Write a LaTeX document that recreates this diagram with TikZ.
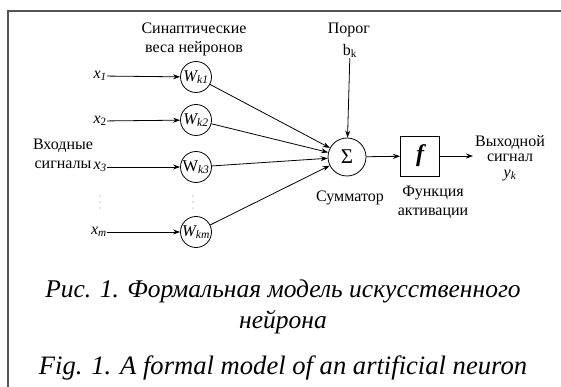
\documentclass[tikz,border=0pt]{standalone}
\usepackage{fontspec}
\setmainfont{Liberation Serif}
\usetikzlibrary{arrows.meta}
\tikzset{
  lbl/.style={inner sep=0pt, align=center, font=\fontsize{16}{19}\selectfont},
  xlbl/.style={inner sep=0pt, anchor=east, font=\fontsize{16}{19}\selectfont},
  wnode/.style={draw, circle, minimum size=31pt, inner sep=0pt, line width=0.8pt, font=\fontsize{16.5}{18}\selectfont},
  sumnode/.style={draw, circle, minimum size=38pt, inner sep=0pt, line width=0.8pt, font=\fontsize{21}{22}\selectfont},
  fbox/.style={draw, minimum width=39pt, minimum height=40pt, inner sep=0pt, line width=0.8pt, font=\fontsize{24}{26}\selectfont\bfseries\itshape},
  arr/.style={-{Stealth[length=7pt,width=5pt]}, line width=0.8pt},
  captext/.style={inner sep=0pt, font=\fontsize{26}{30}\selectfont\itshape},
  frameline/.style={line width=2pt, color=black!67}
}
\begin{document}
\begin{tikzpicture}[x=1pt,y=-1pt]
\useasboundingbox (0,0) rectangle (561,387);
\draw[frameline] (561,11) -- (8,11) -- (8,387);

% labels
\node[lbl] (syn) at (194,39) {Синаптические\\веса нейронов};
\node[lbl] (porog) at (349,30) {Порог};
\node[lbl] (bk) at (350,51) {b\textsubscript{k}};
\node[lbl] (inp) at (63,154) {Входные\\сигналы};

% inputs
\node[xlbl] (x1) at (107,76) {\textit{x\textsubscript{1}}};
\node[xlbl] (x2) at (107,121) {\textit{x}\textsubscript{2}};
\node[xlbl] (x3) at (107,167) {\textit{x\textsubscript{3}}};
\node[xlbl] (xm) at (107,232) {\textit{x\textsubscript{m}}};
\foreach \yy in {196,202,208} {
  \fill[black!50] (100,\yy) circle (0.7pt);
  \fill[black!50] (193,\yy) circle (0.7pt);
}

% weights
\node[wnode] (w1) at (196,77) {\textit{W\textsubscript{k1}}};
\node[wnode] (w2) at (196,120) {\textit{W\textsubscript{k2}}};
\node[wnode] (w3) at (196,167) {W\textsubscript{\textit{k3}}};
\node[wnode] (wm) at (196,232) {\textit{W\textsubscript{km}}};

% summator and activation
\node[sumnode] (sum) at (347,157) {Σ};
\node[fbox] (f) at (420,156) {f};
\coordinate (out) at (473,156);

\node[lbl] (summ) at (350,198) {Сумматор};
\node[lbl] (act) at (433,202) {Функция\\активации};
\node[lbl, font=\fontsize{16}{15.5}\selectfont] (outl) at (510,158) {Выходной\\сигнал\\\textit{y\textsubscript{k}}};

% connectors
\draw[arr] (x1) -- (w1);
\draw[arr] (x2) -- (w2);
\draw[arr] (x3) -- (w3);
\draw[arr] (xm) -- (wm);
\draw[arr] (w1) -- (sum);
\draw[arr] (w2) -- (sum);
\draw[arr] (w3) -- (sum);
\draw[arr] (wm) -- (sum);
\draw[arr] (bk) -- (sum);
\draw[arr] (sum) -- (f);
\draw[arr] (f) -- (out);

% captions
\node[captext, font=\fontsize{25.5}{30}\selectfont\itshape] (c1) at (283,291) {Рис. 1. Формальная модель искусственного};
\node[captext, font=\fontsize{25.5}{30}\selectfont\itshape] (c2) at (283,322) {нейрона};
\node[captext, font=\fontsize{26.6}{30}\selectfont\itshape] (c3) at (283,368) {Fig. 1. A formal model of an artificial neuron};
\end{tikzpicture}
\end{document}
